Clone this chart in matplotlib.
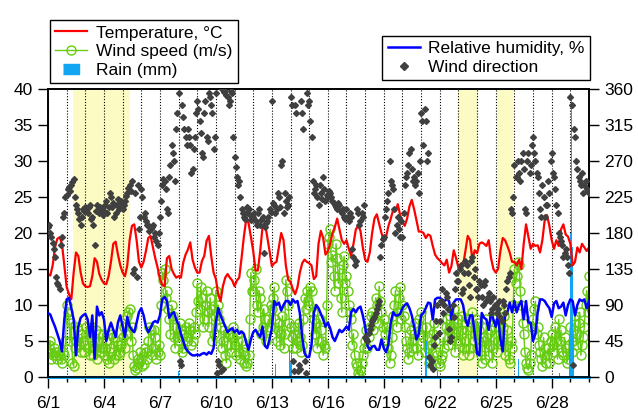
import numpy as np
import matplotlib
matplotlib.use("Agg")
import matplotlib.pyplot as plt
from matplotlib.lines import Line2D

plt.rcParams['font.family'] = ['Liberation Sans', 'DejaVu Sans']

# 3-hourly samples starting 6/1 00:00 (x in days since 6/1)
temperature = [
    14.3, 14.1, 15.5, 18.0, 19.2, 19.4, 18.5, 15.5,
    12.5, 11.5, 10.8, 14.5, 17.3, 16.8, 14.5, 13.0,
    12.6, 12.5, 12.6, 14.0, 16.5, 16.0, 14.3, 13.5,
    13.0, 12.9, 14.0, 16.0, 18.5, 18.8, 17.0, 15.5,
    14.5, 14.0, 15.5, 19.0, 21.0, 21.2, 19.0, 16.0,
    15.2, 16.0, 17.5, 19.3, 19.6, 18.0, 16.5, 15.2,
    13.6, 12.8, 12.6, 16.5, 16.8, 15.0, 14.3, 13.8,
    14.0, 13.8, 15.9, 17.0, 17.7, 18.7, 16.3, 15.2,
    14.5, 14.5, 16.1, 16.8, 18.9, 19.6, 16.8, 14.5,
    13.6, 11.5, 10.5, 12.6, 13.8, 14.3, 13.8, 13.4,
    12.6, 13.4, 13.8, 16.5, 19.5, 21.9, 21.4, 19.5,
    17.5, 14.8, 14.8, 17.5, 20.8, 21.4, 19.5, 17.5,
    15.4, 15.8, 16.0, 18.0, 20.0, 19.0, 15.5, 13.5,
    13.2, 12.2, 11.5, 12.5, 14.5, 15.8, 16.3, 16.0,
    15.8, 15.5, 13.6, 14.0, 18.5, 20.3, 19.3, 17.0,
    17.5, 18.5, 20.0, 20.8, 22.0, 20.5, 19.0, 18.5,
    19.0, 17.8, 16.8, 18.5, 20.5, 21.0, 20.3, 18.0,
    16.3, 16.0, 17.3, 20.0, 22.0, 22.6, 21.3, 20.0,
    19.0, 19.5, 21.0, 22.0, 23.2, 23.0, 24.0, 22.5,
    21.5, 21.0, 22.0, 23.7, 24.6, 23.3, 21.8, 20.2,
    20.2, 20.0, 19.3, 19.8, 19.6, 18.2, 17.0, 16.5,
    16.2, 15.8, 15.5, 16.3, 14.5, 15.4, 17.6, 16.5,
    15.2, 14.7, 15.5, 17.5, 19.6, 19.0, 16.3, 17.6,
    17.2, 18.5, 18.7, 18.5, 18.2, 19.0, 16.5, 15.0,
    14.5, 15.0, 17.5, 19.3, 19.0, 18.2, 17.3, 16.0,
    16.0, 15.5, 16.3, 15.0, 18.5, 21.2, 19.5, 17.8,
    18.5, 18.2, 18.3, 17.3, 19.0, 21.8, 22.5, 21.0,
    19.0, 17.8, 19.0, 18.2, 20.5, 21.2, 19.8, 19.5,
    18.5, 15.5, 16.0, 18.0, 17.3, 18.5, 18.0, 17.5,
    18.0]

humidity = [
    80, 78, 70, 63, 54, 45, 32, 72,
    97, 99, 86, 72, 27, 63, 74, 77,
    79, 72, 50, 77, 23, 88, 77, 81,
    72, 45, 59, 68, 59, 50, 68, 77,
    63, 50, 75, 63, 59, 56, 68, 81,
    86, 77, 63, 56, 61, 68, 70, 68,
    77, 97, 100, 95, 74, 79, 81, 72,
    65, 54, 45, 36, 32, 29, 27, 27,
    28, 27, 29, 30, 28, 31, 29, 36,
    68, 86, 77, 70, 63, 56, 59, 61,
    56, 59, 54, 57, 54, 43, 34, 47,
    56, 59, 54, 50, 63, 39, 36, 47,
    61, 95, 90, 93, 83, 90, 95, 95,
    90, 97, 93, 95, 80, 50, 30, 25,
    25, 40, 80, 90, 86, 79, 72, 63,
    68, 61, 50, 45, 52, 59, 56, 59,
    63, 59, 81, 85, 81, 86, 88, 77,
    63, 39, 34, 38, 39, 34, 34, 47,
    36, 31, 41, 68, 81, 77, 77, 79,
    86, 90, 92, 86, 77, 63, 47, 54,
    77, 80, 86, 93, 92, 72, 97, 99,
    99, 97, 95, 97, 95, 72, 93, 97,
    97, 97, 90, 72, 64, 77, 77, 54,
    29, 27, 80, 74, 72, 59, 81, 72,
    63, 77, 47, 32, 77, 81, 93, 81,
    95, 81, 90, 95, 72, 95, 68, 68,
    45, 54, 81, 97, 97, 95, 90, 86,
    75, 92, 95, 86, 88, 93, 77, 90,
    97, 95, 77, 90, 97, 95, 97, 86,
    95]

# wind speed on the 3-hour marks
wind_speed = [
    3.5, 5, 3, 3.5, 2.5, 3, 2, 3,
    10, 8, 7.5, 1.5, 5, 6.5, 3.5, 5,
    4.5, 6, 3, 7, 4, 2.5, 6, 4,
    3, 5, 2, 4, 5.5, 3, 4.5, 3.5,
    5.5, 4, 8.5, 9.5, 7, 1.5, 1.2, 2,
    2.5, 1.8, 3.5, 5, 6.5, 4, 5.5, 3.5,
    3, 14.5, 15, 12, 8, 10, 5.5, 7,
    5, 6.5, 4, 7, 5.5, 6.5, 5, 6,
    13, 9.5, 11, 8, 12, 7, 9.5, 6,
    12, 10, 7, 5, 3, 4.5, 6, 5.5,
    4.5, 6, 3.5, 5, 2, 1.5, 3, 14.5,
    12, 15, 9, 11, 7, 8, 6.5, 7,
    9.5, 12.5, 5, 7.5, 6, 4, 13.5, 10,
    7, 4, 6, 5, 5.5, 4.5, 11, 12,
    10, 12, 8, 7.5, 5, 6.5, 3, 4,
    18.5, 20.5, 17, 12, 16.5, 15, 9, 16.8,
    14, 10, 8, 6, 2, 0.5, 1, 3,
    5, 4, 7, 9, 8, 10, 12.6, 9,
    8, 7, 4, 3, 8.5, 12, 9, 12.5,
    10, 7, 4, 3.5, 5, 6, 4, 8,
    9, 5.5, 7, 4, 2.5, 6, 5, 3,
    1.5, 3, 4, 8, 6.5, 7, 9.5, 5,
    8, 6.5, 3, 5, 8, 4, 9, 6,
    4, 6.5, 2, 5, 8, 3, 6.5, 4,
    8, 5, 9, 7, 3, 6.5, 2, 4,
    15, 14, 15.5, 10, 6, 2, 1, 3,
    8, 10.5, 7, 3.5, 1.5, 4, 3, 2,
    6, 3.5, 5, 8, 6.5, 3, 4, 2.5,
    7, 5, 8.5, 6, 9, 4.5, 7, 12,
    14]

# wind speed half-way between the 3-hour marks
wind_speed_mid = [
    4.5, 2.5, 4, 3, 3.5, 2.5, 3.5, 5,
    9, 5, 2, 4, 7, 4.5, 6, 3.5,
    7, 4, 5.5, 3, 6.5, 5, 3.5, 6,
    4, 2.5, 3.5, 6, 2.5, 5, 3, 4.5,
    7, 6, 9, 5, 3, 1, 2.5, 3.5,
    1.5, 4, 2.5, 7, 3, 6.5, 2.5, 4.5,
    10, 13.5, 11, 9.5, 6, 8.5, 4, 5.5,
    7.5, 3.5, 6, 5, 7.5, 4.5, 7, 9,
    10.5, 12.5, 7, 10, 9, 11, 5, 8.5,
    9, 8, 4, 6.5, 2, 6, 3.5, 7,
    3, 5, 2.5, 3.5, 3, 2, 8, 12,
    13.5, 10, 12, 6, 9.5, 5, 8, 10,
    11, 8, 6.5, 4.5, 8.5, 6, 12, 7.5,
    5.5, 7, 4, 7.5, 3.5, 8, 9.5, 10.5,
    12.5, 9, 6, 4, 8, 5, 4.5, 10,
    19.5, 16, 14, 18.5, 13, 11, 15.5, 13,
    12, 9, 4.5, 3, 1.5, 0.2, 2, 4,
    6.5, 5.5, 8.5, 6.5, 11, 7.5, 10.5, 7,
    6, 5, 2, 5.5, 10, 7, 11, 8,
    8.5, 5, 2.5, 6.5, 4, 7.5, 3, 6,
    7, 3.5, 5.5, 2, 4.5, 7.5, 3.5, 2,
    2.5, 5.5, 7, 4.5, 8.5, 5.5, 3.5, 7.5,
    5, 8.5, 4, 6.5, 3, 7, 5, 8,
    7.5, 3, 5.5, 2.5, 6, 4.5, 2, 7,
    3.5, 7, 5, 8.5, 4.5, 2.5, 5, 10,
    13, 16, 12, 7.5, 3.5, 1.2, 2, 7,
    9.5, 6, 4.5, 2.5, 5.5, 2, 4, 5,
    4.5, 7, 2.5, 5, 3.5, 5.5, 2, 4.5,
    3.5, 6.5, 4.5, 7.5, 3, 5.5, 10, 9]

wind_direction = [
    188, 180, 168, 150, 118, 110, 175, 205,
    228, 238, 240, 248, 215, 205, 190, 210,
    212, 205, 215, 200, 165, 215, 205, 210,
    208, 220, 212, 225, 218, 205, 222, 215,
    210, 220, 230, 240, 245, 135, 125, 185,
    235, 200, 195, 190, 185, 190, 180, 165,
    200, 240, 245, 210, 250, 290, 270, 310,
    355, 15, 325, 300, 310, 290, 260, 300,
    345, 320, 280, 330, 300, 355, 340, 285,
    355, 20, 8, 10, 358, 350, 345, 355,
    275, 250, 245, 210, 200, 205, 210, 196,
    200, 195, 205, 190, 200, 188, 195, 210,
    345, 215, 210, 225, 265, 205, 220, 215,
    350, 20, 340, 8, 10, 330, 20, 355,
    345, 300, 230, 240, 215, 230, 250, 220,
    225, 230, 220, 215, 210, 215, 205, 200,
    210, 195, 200, 150, 145, 205, 195, 200,
    50, 45, 60, 70, 75, 85, 95, 165,
    175, 210, 230, 245, 235, 180, 200, 175,
    175, 240, 255, 280, 260, 250, 245, 230,
    330, 290, 320, 280, 15, 10, 50, 90,
    70, 110, 90, 100, 60, 50, 75, 130,
    120, 140, 110, 145, 130, 100, 150, 135,
    110, 120, 100, 115, 95, 105, 80, 100,
    90, 85, 75, 95, 80, 120, 130, 205,
    265, 250, 255, 270, 260, 205, 280, 265,
    300, 270, 250, 210, 240, 200, 215, 230,
    280, 250, 215, 180, 170, 150, 160, 140,
    350, 15, 300, 260, 245, 255, 240, 235,
    230]

wind_direction_mid = [
    190, 175, 160, 125, 115, 165, 200, 225,
    235, 232, 244, 225, 210, 198, 200, 208,
    208, 212, 198, 190, 208, 208, 212, 203,
    215, 205, 230, 212, 200, 215, 210, 220,
    215, 226, 236, 232, 130, 230, 240, 200,
    225, 205, 190, 182, 188, 175, 170, 180,
    220, 248, 235, 205, 265, 280, 245, 330,
    20, 340, 310, 290, 300, 255, 285, 330,
    335, 305, 275, 345, 295, 350, 330, 300,
    5, 15, 360, 356, 352, 340, 358, 300,
    262, 240, 225, 205, 198, 212, 202, 200,
    205, 190, 210, 196, 155, 192, 200, 206,
    218, 205, 230, 212, 270, 230, 212, 225,
    340, 8, 330, 15, 345, 310, 5, 340,
    320, 245, 235, 225, 240, 222, 235, 228,
    232, 225, 218, 212, 218, 208, 210, 198,
    200, 205, 160, 140, 210, 190, 205, 215,
    48, 55, 65, 72, 80, 90, 150, 172,
    200, 220, 270, 240, 210, 190, 185, 195,
    205, 250, 265, 285, 245, 240, 255, 270,
    320, 335, 270, 25, 20, 40, 70, 55,
    95, 80, 105, 85, 45, 90, 110, 120,
    135, 105, 130, 140, 115, 145, 125, 110,
    100, 115, 90, 120, 100, 95, 85, 90,
    80, 95, 70, 90, 110, 125, 210, 225,
    250, 270, 245, 280, 210, 270, 255, 290,
    280, 255, 230, 200, 225, 215, 245, 270,
    255, 235, 205, 175, 165, 155, 150, 130,
    340, 310, 270, 250, 240, 230, 245, 232]

rain_day = [6.98, 9.17, 12.2, 12.96, 13.0, 13.04, 20.25, 20.29, 20.9, 25.2,
            27.4, 27.96, 28.0, 28.04, 28.08, 28.13, 28.17]
rain_mm = [0.8, 0.3, 1.8, 3.8, 2.0, 3.0, 10.0, 5.0, 0.8, 2.5,
           0.6, 6, 20, 39, 30, 18, 6]

shade_start = [1.34, 21.96, 24.05]
shade_end = [4.39, 23.03, 24.9]

tick_days = [0, 3, 6, 9, 12, 15, 18, 21, 24, 27]
tick_labels = ['6/1', '6/4', '6/7', '6/10', '6/13', '6/16', '6/19', '6/22', '6/25', '6/28']

c_temp = '#FF0000'
c_wind = '#66CC11'
c_rain = '#12A6F2'
c_rh = '#0000FF'
c_dir = '#404040'
fs = 12.5
ms_dir = 3.0

t = np.arange(len(temperature)) / 8.0
t_mid = t[:-1] + 1.0 / 16.0

# merge the two wind-speed sample sets in time order
ws_t = np.empty(len(wind_speed) + len(wind_speed_mid))
ws_v = np.empty_like(ws_t)
ws_t[0::2] = t
ws_t[1::2] = t_mid
ws_v[0::2] = wind_speed
ws_v[1::2] = wind_speed_mid

fig = plt.figure(figsize=(6.38, 4.12), dpi=100)
ax = fig.add_axes([48/638, 1-377/412, (589-48)/638, (377-89)/412])

for s, e in zip(shade_start, shade_end):
    ax.axvspan(s, e, color='#FDFBC4', zorder=0, lw=0)

ax.plot(ws_t, ws_v, color=c_wind, lw=1.0, marker='o', ms=6.5, mfc='none',
        mec=c_wind, mew=1.0, zorder=3)
ax.plot(t, temperature, color=c_temp, lw=1.6, zorder=4)
ax.bar(rain_day, rain_mm, width=0.045, color=c_rain, zorder=3, lw=0)
ax.axhline(0, color=c_rain, lw=2.2, zorder=5, clip_on=False)

ax.set_xlim(0, 29)
ax.set_ylim(0, 40)
ax.set_yticks(np.arange(0, 41, 5))
ax.set_xticks(tick_days)
ax.set_xticklabels(tick_labels)
ax.set_xticks(np.arange(0, 30, 1), minor=True)
ax.grid(axis='x', which='both', color='k', ls=(0, (1, 1.6)), lw=0.8, zorder=1)
ax.set_axisbelow(True)

ax2 = ax.twinx()
ax2.plot(t, humidity, color=c_rh, lw=1.8, zorder=3)
ax2.plot(t, wind_direction, ls='none', marker='D', ms=ms_dir, color=c_dir, zorder=4)
ax2.plot(t_mid, wind_direction_mid, ls='none', marker='D', ms=ms_dir, color=c_dir, zorder=4)
ax2.set_ylim(0, 360)
ax2.set_yticks(np.arange(0, 361, 45))

for a in (ax, ax2):
    a.tick_params(which='major', direction='out', length=7.5, width=1.0,
                  labelsize=fs, colors='k')
    a.tick_params(which='minor', direction='out', length=3.5, width=1.0)
    for sp in a.spines.values():
        sp.set_linewidth(1.2)
ax.tick_params(axis='x', which='major', length=8, pad=6)

h1 = [Line2D([], [], color=c_temp, lw=1.6),
      Line2D([], [], color=c_wind, lw=1.0, marker='o', ms=6.5, mfc='none', mew=1.0),
      Line2D([], [], ls='none', marker=[(-0.75, -0.5), (0.75, -0.5), (0.75, 0.5), (-0.75, 0.5)],
             ms=11.5, color=c_rain)]
l1 = ['Temperature, °C', 'Wind speed (m/s)', 'Rain (mm)']
h2 = [Line2D([], [], color=c_rh, lw=1.8),
      Line2D([], [], ls='none', marker='D', ms=ms_dir + 0.8, color=c_dir)]
l2 = ['Relative humidity, %', 'Wind direction']

common = dict(bbox_transform=fig.transFigure, frameon=True, fancybox=False,
              edgecolor='k', borderaxespad=0, fontsize=fs, handlelength=1.85,
              handletextpad=0.5, labelspacing=0.2, borderpad=0.3, numpoints=1)
leg1 = fig.legend(h1, l1, loc='lower left', bbox_to_anchor=(50/638, 1-83/412), **common)
leg2 = fig.legend(h2, l2, loc='lower right', bbox_to_anchor=(590/638, 1-80/412), **common)
for lg in (leg1, leg2):
    lg.get_frame().set_linewidth(1.0)
    lg.get_frame().set_alpha(1)

fig.savefig('out.png', dpi=100)
